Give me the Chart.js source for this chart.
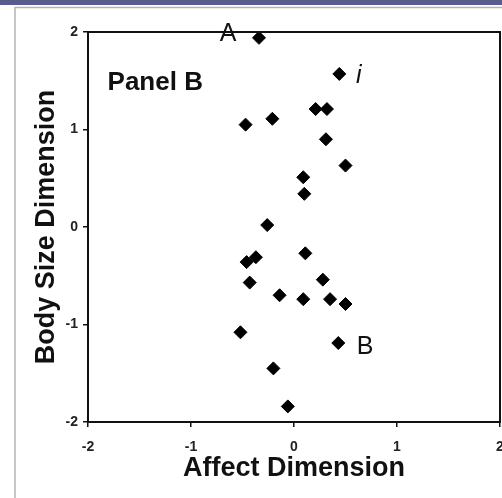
<!DOCTYPE html>
<html lang="en">
<head>
    <meta charset="UTF-8">
    <title>Panel B - Affect vs Body Size</title>
    <script src="https://cdn.jsdelivr.net/npm/chart.js"></script>
    <style>
        html, body { margin: 0; padding: 0; background: #fff; overflow: hidden; }
        #wrap { width: 502px; height: 498px; overflow: hidden; }
    </style>
</head>
<body>
    <div id="wrap">
        <canvas id="panelB" width="502" height="498"></canvas>
    </div>

    <script>
        // Affect dimension (x) and body size dimension (y)
        const affect = [-0.34, 0.44, 0.21, 0.32, -0.47, -0.21, 0.31, 0.50, 0.09, 0.10, -0.26, 0.11,
                        -0.46, -0.37, -0.43, 0.28, -0.14, 0.09, 0.35, 0.50, -0.52, 0.43, -0.20, -0.06];
        const bodySize = [1.94, 1.57, 1.21, 1.21, 1.05, 1.11, 0.90, 0.63, 0.51, 0.34, 0.02, -0.27,
                          -0.36, -0.31, -0.57, -0.54, -0.70, -0.74, -0.74, -0.79, -1.08, -1.19, -1.45, -1.84];
        const xTicks = [-2, -1, 0, 1, 2];
        const yTicks = [-2, -1, 0, 1, 2];

        // text notes in data coordinates
        const noteText = ['A', 'i', 'B', 'Panel B'];
        const noteX = [-0.64, 0.63, 0.69, -1.81];
        const noteY = [1.98, 1.55, -1.23, 1.48];

        const FONT = 'Arial, "Liberation Sans", sans-serif';

        // page frame like the scanned page (purple band, thin grey edge)
        const pageFrame = {
            id: 'pageFrame',
            beforeDraw(chart) {
                const ctx = chart.ctx;
                ctx.save();
                ctx.fillStyle = '#fff';
                ctx.fillRect(0, 0, chart.width, chart.height);
                ctx.fillStyle = '#5b5c8e';
                ctx.fillRect(0, 0, chart.width, 5);
                ctx.strokeStyle = '#b4b4b4';
                ctx.lineWidth = 1.5;
                ctx.beginPath();
                ctx.moveTo(15, chart.height);
                ctx.lineTo(15, 7.5);
                ctx.lineTo(chart.width, 7.5);
                ctx.stroke();
                ctx.restore();
            }
        };

        // box round the plot and the text notes
        const boxAndNotes = {
            id: 'boxAndNotes',
            afterDatasetsDraw(chart) {
                const ctx = chart.ctx;
                const a = chart.chartArea;
                const sx = chart.scales.x, sy = chart.scales.y;
                ctx.save();
                ctx.strokeStyle = '#111';
                ctx.lineWidth = 2;
                ctx.strokeRect(a.left, a.top, a.right - a.left, a.bottom - a.top);

                ctx.fillStyle = '#111';
                ctx.textBaseline = 'middle';
                noteText.forEach((t, i) => {
                    const px = sx.getPixelForValue(noteX[i]);
                    const py = sy.getPixelForValue(noteY[i]);
                    if (t === 'Panel B') {
                        ctx.font = 'bold 26px ' + FONT;
                        ctx.textAlign = 'left';
                    } else if (t === 'i') {
                        ctx.font = 'italic 25px ' + FONT;
                        ctx.textAlign = 'center';
                    } else {
                        ctx.font = '25px ' + FONT;
                        ctx.textAlign = 'center';
                    }
                    ctx.fillText(t, px, py);
                });
                ctx.restore();
            }
        };

        new Chart(document.getElementById('panelB'), {
            type: 'scatter',
            data: {
                datasets: [{
                    label: 'Panel B',
                    data: affect.map((x, i) => ({ x: x, y: bodySize[i] })),
                    pointStyle: 'rectRot',
                    pointRadius: 6.5,
                    pointHoverRadius: 6.5,
                    backgroundColor: '#000',
                    borderColor: '#000',
                    borderWidth: 1,
                    clip: false
                }]
            },
            options: {
                responsive: false,
                animation: false,
                devicePixelRatio: 1,
                layout: {
                    autoPadding: false,
                    padding: { top: 32, right: 2, left: 0, bottom: 0 }
                },
                plugins: {
                    legend: { display: false },
                    tooltip: { enabled: false }
                },
                scales: {
                    x: {
                        type: 'linear',
                        min: -2,
                        max: 2,
                        afterBuildTicks: s => { s.ticks = xTicks.map(v => ({ value: v })); },
                        afterFit: s => { s.height = 76; s.paddingLeft = 0; s.paddingRight = 0; },
                        grid: { drawOnChartArea: false, drawTicks: true, tickLength: 5, color: '#111', lineWidth: 1.5 },
                        border: { display: true, color: '#111', width: 2 },
                        ticks: {
                            color: '#222',
                            padding: 12,
                            maxRotation: 0,
                            font: { family: FONT, size: 14, weight: 'bold' }
                        },
                        title: {
                            display: true,
                            text: 'Affect Dimension',
                            color: '#111',
                            padding: { top: 0, bottom: 13 },
                            font: { family: FONT, size: 27, weight: 'bold' }
                        }
                    },
                    y: {
                        type: 'linear',
                        min: -2,
                        max: 2,
                        afterBuildTicks: s => { s.ticks = yTicks.map(v => ({ value: v })); },
                        afterFit: s => { s.width = 88; s.paddingTop = 0; s.paddingBottom = 0; },
                        grid: { drawOnChartArea: false, drawTicks: true, tickLength: 5, color: '#111', lineWidth: 1.5 },
                        border: { display: true, color: '#111', width: 2 },
                        ticks: {
                            color: '#222',
                            padding: 5,
                            font: { family: FONT, size: 14, weight: 'bold' }
                        },
                        title: {
                            display: true,
                            text: 'Body Size Dimension',
                            color: '#111',
                            padding: { top: 30, bottom: 0 },
                            font: { family: FONT, size: 27, weight: 'bold' }
                        }
                    }
                }
            },
            plugins: [pageFrame, boxAndNotes]
        });
    </script>
</body>
</html>
